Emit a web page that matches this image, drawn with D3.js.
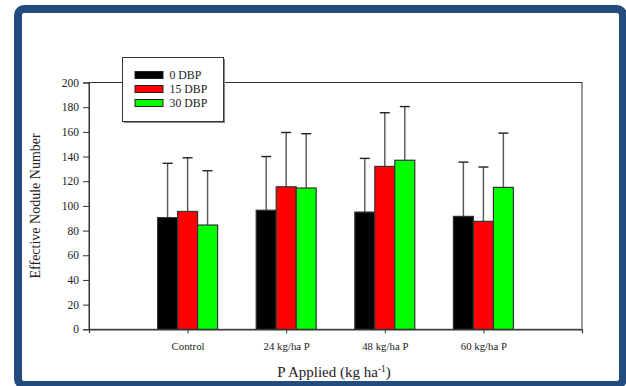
<!DOCTYPE html>
<html>
<head>
<meta charset="utf-8">
<script src="https://cdn.jsdelivr.net/npm/d3@7"></script>
<style>
  html, body { margin: 0; padding: 0; background: #fff; }
  svg { display: block; }
</style>
</head>
<body>
<svg id="chart" width="626" height="386"></svg>
<script>
// Treatments along the x axis
const categories = ["Control", "24 kg/ha P", "48 kg/ha P", "60 kg/ha P"];
// Sampling times (days before planting)
const seriesNames = ["0 DBP", "15 DBP", "30 DBP"];
const seriesColors = ["#000000", "#ff0000", "#00ff00"];
// Mean effective nodule number per treatment, one array per series
const dbp0 = [90.5, 96.5, 95, 91.5];
const dbp15 = [95.5, 115.5, 132, 87.5];
const dbp30 = [84.5, 114.5, 137, 115];
// Upper end of the error bar for each bar
const dbp0Err = [134.5, 140, 138.5, 135.5];
const dbp15Err = [139, 159.5, 175.5, 131.5];
const dbp30Err = [128.5, 158.5, 180.5, 159];
const yTicks = [0, 20, 40, 60, 80, 100, 120, 140, 160, 180, 200];

const seriesValues = [dbp0, dbp15, dbp30];
const seriesErr = [dbp0Err, dbp15Err, dbp30Err];

const FONT = "'Liberation Serif', 'Times New Roman', serif";
const svg = d3.select("#chart");

const plotL = 89, plotR = 582, plotT = 82.5, plotB = 329.3;

const x = d3.scaleLinear().domain([0, categories.length + 1]).range([plotL, plotR]);
const y = d3.scaleLinear().domain([0, 200]).range([plotB, plotT]);
const barW = 20;
const offset = d3.scaleLinear().domain([0, seriesNames.length - 1]).range([-barW, barW]);

// Frame around the plotting area
svg.append("rect")
  .attr("x", plotL).attr("y", plotT)
  .attr("width", plotR - plotL).attr("height", plotB - plotT)
  .attr("fill", "none").attr("stroke", "#333").attr("stroke-width", 1);

// Bars with upper error whiskers
seriesValues.forEach((vals, s) => {
  const g = svg.append("g");
  // whiskers drawn first so bars cover the stems
  vals.forEach((v, i) => {
    const cx = x(i + 1) + offset(s);
    g.append("line")
      .attr("x1", cx).attr("x2", cx)
      .attr("y1", y(v)).attr("y2", y(seriesErr[s][i]))
      .attr("stroke", "#555").attr("stroke-width", 1.4);
    g.append("line")
      .attr("x1", cx - 5).attr("x2", cx + 5)
      .attr("y1", y(seriesErr[s][i])).attr("y2", y(seriesErr[s][i]))
      .attr("stroke", "#222").attr("stroke-width", 1.4);
  });
  g.selectAll("rect").data(vals).enter().append("rect")
    .attr("x", (v, i) => x(i + 1) + offset(s) - barW / 2)
    .attr("y", v => y(v))
    .attr("width", barW)
    .attr("height", v => plotB - y(v))
    .attr("fill", seriesColors[s])
    .attr("stroke", "#333").attr("stroke-width", 1.2);
});

// Y axis
const yAxis = d3.axisLeft(y).tickValues(yTicks).tickSize(6).tickPadding(4);
const gy = svg.append("g").attr("transform", `translate(${plotL},0)`).call(yAxis);
gy.select(".domain").attr("stroke", "#333");
gy.selectAll(".tick line").attr("stroke", "#333");
gy.selectAll(".tick text").style("font-size", "11.5px").style("fill", "#222")
  .style("font-family", FONT);

// X axis
const xAxis = d3.axisBottom(x)
  .tickValues(d3.range(1, categories.length + 1))
  .tickFormat(d => categories[d - 1])
  .tickSize(4).tickPadding(9);
const gx = svg.append("g").attr("transform", `translate(0,${plotB})`).call(xAxis);
gx.select(".domain").attr("stroke", "#333").attr("stroke-width", 1.2);
gx.selectAll(".tick line").attr("stroke", "#333");
gx.selectAll(".tick text").style("font-size", "10.8px").style("fill", "#222")
  .style("font-family", FONT);

// Axis titles
svg.append("text")
  .attr("transform", `translate(40,${(plotT + plotB) / 2}) rotate(-90)`)
  .attr("text-anchor", "middle")
  .style("font-family", FONT).style("font-size", "14px").style("fill", "#222")
  .text("Effective Nodule Number");

const xt = svg.append("text")
  .attr("x", 334).attr("y", 377)
  .attr("text-anchor", "middle")
  .style("font-family", FONT).style("font-size", "15px").style("fill", "#222");
xt.append("tspan").text("P Applied (kg ha");
xt.append("tspan").attr("dy", -5).style("font-size", "9.5px").text("-1");
xt.append("tspan").attr("dy", 5).text(")");

// Legend
const lg = svg.append("g").attr("transform", "translate(122.5,57.5)");
lg.append("rect").attr("x", 1.5).attr("y", 1.5).attr("width", 101).attr("height", 64)
  .attr("fill", "#888");
lg.append("rect").attr("width", 101).attr("height", 64)
  .attr("fill", "#fff").attr("stroke", "#333").attr("stroke-width", 1);
seriesNames.forEach((name, s) => {
  const ry = 17.5 + s * 14;
  lg.append("rect").attr("x", 12.5).attr("y", ry - 3.5)
    .attr("width", 28).attr("height", 7)
    .attr("fill", seriesColors[s]).attr("stroke", "#222").attr("stroke-width", 1);
  lg.append("text").attr("x", 47).attr("y", ry + 4)
    .style("font-family", FONT).style("font-size", "11.8px").style("fill", "#222")
    .text(name);
});

// Outer rounded border
svg.append("rect")
  .attr("x", 18).attr("y", 9)
  .attr("width", 605).attr("height", 376)
  .attr("rx", 6).attr("ry", 6)
  .attr("fill", "none").attr("stroke", "#244b7e").attr("stroke-width", 8);
</script>
</body>
</html>
